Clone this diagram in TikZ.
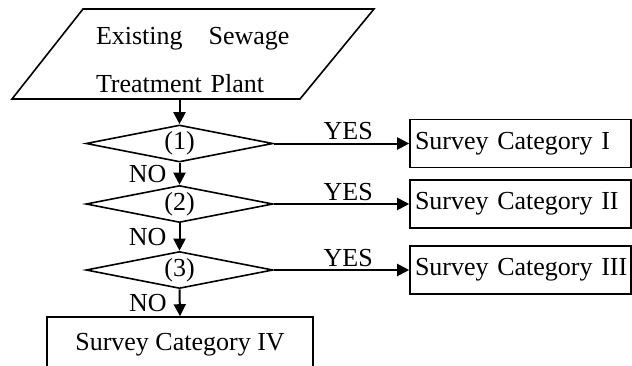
\documentclass[tikz,border=0pt]{standalone}
\usepackage{fontspec}
\setmainfont{Liberation Serif}
\usetikzlibrary{shapes.geometric , arrows.meta}

\begin{document}
\begin{tikzpicture}[x=0.5pt, y=-0.5pt, font=\fontsize{13}{24}\selectfont,
  decision/.style={diamond, draw, line width=0.8pt, minimum width=93.5pt, minimum height=18.5pt, inner sep=0pt, aspect=5},
  survey/.style={rectangle, draw, line width=0.8pt, minimum height=24pt, text width=105.5pt, inner xsep=2.5pt, align=left},
  flow/.style={line width=1pt, -{Triangle[length=6pt, width=6pt]}}]

\clip (0,0) rectangle (632,365);

% Start box (parallelogram) and its text
\draw[line width=0.8pt] (12,99) -- (83,9) -- (374,9) -- (300,99) -- cycle;
\coordinate (plantOut) at (179.5,99); % Bottom edge
\node[text width=100pt, align=left, inner sep=0pt] (plant) at (196,60.5) {Existing\quad Sewage\\Treatment Plant};

% Decisions on the main line
\node[decision] (q1) at (179.5,143.5) {(1)}; % First
\node[decision] (q2) at (179.5,204) {(2)}; % Second
\node[decision] (q3) at (179.5,270) {(3)}; % Third

% Categories
\node[survey] (cat1) at (520.5,143.5) {\mbox{Survey Category I}};
\node[survey] (cat2) at (520.5,204) {\mbox{Survey Category II}};
\node[survey] (cat3) at (520.5,270) {\mbox{Survey Category III}};
\node[rectangle, draw, line width=0.8pt, minimum width=133pt, minimum height=28pt] (cat4) at (180,345) {Survey Category IV}; % Bottom

% Edges following the flow
\draw[flow] (plantOut) -- (q1.north);
\draw[flow] (q1.south) -- (q2.north) node[midway, left=2.7pt] {NO};
\draw[flow] (q2.south) -- (q3.north) node[midway, left=2.7pt] {NO};
\draw[flow] (q3.south) -- (cat4.north) node[midway, left=2.7pt] {NO};
\draw[flow] (q1.east) -- (cat1.west) node[pos=0.55, above=-2pt] {YES};
\draw[flow] (q2.east) -- (cat2.west) node[pos=0.55, above=-2pt] {YES};
\draw[flow] (q3.east) -- (cat3.west) node[pos=0.55, above=-2pt] {YES};
\end{tikzpicture}
\end{document}
